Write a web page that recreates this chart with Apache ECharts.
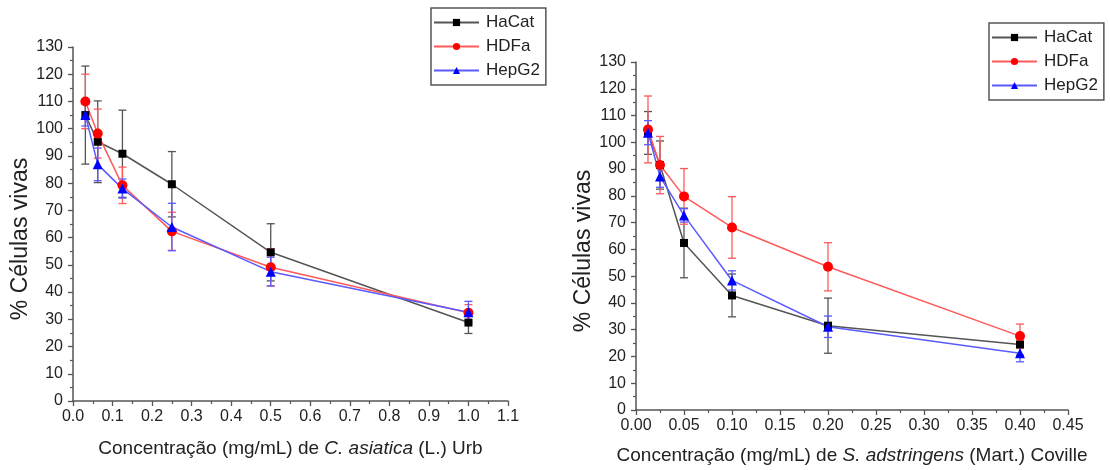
<!DOCTYPE html>
<html>
<head>
<meta charset="utf-8">
<script src="https://cdn.jsdelivr.net/npm/echarts@6/dist/echarts.min.js"></script>
<style>
  html, body { margin: 0; padding: 0; background: #fff; }
  #chart { width: 1110px; height: 470px; }
</style>
</head>
<body>
<div id="chart"></div>
<script>
// C. asiatica (painel esquerdo)
const concA = [0.03125, 0.0625, 0.125, 0.25, 0.5, 1.0];
const hacatA = [105, 95.2, 90.8, 79.6, 54.6, 28.8];
const hacatAErr = [18, 15, 16, 12, 10.5, 4];
const hdfaA = [110, 98.2, 79.2, 62.3, 49.1, 32.4];
const hdfaAErr = [10, 9, 6.7, 7, 6.8, 3];
const hepg2A = [105, 86.9, 78, 63.9, 47.5, 32.6];
const hepg2AErr = [4, 6, 3.5, 8.7, 5.3, 4];

// S. adstringens (painel direito)
const concB = [0.0125, 0.025, 0.05, 0.1, 0.2, 0.4];
const hacatB = [103.5, 91.5, 62.4, 42.8, 31.5, 24.5];
const hacatBErr = [8, 9, 13, 8, 10.3, 4];
const hdfaB = [104.8, 91.5, 79.8, 68.2, 53.5, 27.6];
const hdfaBErr = [12.5, 10.7, 10.4, 11.5, 9, 4.5];
const hepg2B = [103.6, 87.2, 72.7, 48.4, 31.1, 21.2];
const hepg2BErr = [4.5, 4, 2.5, 3.6, 4, 3.2];

const cellNames = ['HaCat', 'HDFa', 'HepG2'];
const markerColors = ['#000000', '#ff0000', '#0000ff'];
const lineColors = ['#555555', '#ff5a5a', '#5a5aff'];
const symbols = ['rect', 'circle', 'triangle'];
const symbolSizes = [8, 10, 10];

function pts(xs, ys) {
    return xs.map((x, i) => [x, ys[i]]);
}
function errPts(xs, ys, es) {
    return xs.map((x, i) => [x, ys[i], es[i]]);
}

// barra de erro com "chapeu" em cima e embaixo
function errorBar(color) {
    return function (params, api) {
        let x = api.value(0), y = api.value(1), e = api.value(2);
        let top = api.coord([x, y + e]);
        let bot = api.coord([x, y - e]);
        let w = 4;
        let st = { stroke: color, lineWidth: 1.3 };
        return {
            type: 'group',
            children: [
                { type: 'line', shape: { x1: top[0], y1: top[1], x2: bot[0], y2: bot[1] }, style: st },
                { type: 'line', shape: { x1: top[0] - w, y1: top[1], x2: top[0] + w, y2: top[1] }, style: st },
                { type: 'line', shape: { x1: bot[0] - w, y1: bot[1], x2: bot[0] + w, y2: bot[1] }, style: st }
            ]
        };
    };
}

const font = 'Liberation Sans, Arial, sans-serif';
const axisColor = '#555';

function xAxisOf(idx, max, interval, digits, nameRich, gap) {
    return {
        type: 'value', gridIndex: idx, min: 0, max: max, interval: interval,
        axisLine: { show: true, onZero: false, lineStyle: { color: axisColor, width: 1.5 } },
        axisTick: { show: true, length: 5, lineStyle: { color: axisColor, width: 1.3 } },
        minorTick: { show: true, splitNumber: 2, length: 3, lineStyle: { color: axisColor, width: 1.2 } },
        splitLine: { show: false },
        axisLabel: { color: '#222', fontSize: 16, fontFamily: font, margin: 8,
            formatter: v => v.toFixed(digits) },
        name: nameRich, nameLocation: 'middle', nameGap: gap,
        nameTextStyle: { color: '#222', fontSize: 19, fontFamily: font,
            rich: { i: { fontStyle: 'italic', fontSize: 19, fontFamily: font, color: '#222' } } }
    };
}
function yAxisOf(idx, gap) {
    return {
        type: 'value', gridIndex: idx, min: 0, max: 130, interval: 10,
        axisLine: { show: true, onZero: false, lineStyle: { color: axisColor, width: 1.5 } },
        axisTick: { show: true, length: 5, lineStyle: { color: axisColor, width: 1.3 } },
        minorTick: { show: true, splitNumber: 2, length: 3, lineStyle: { color: axisColor, width: 1.2 } },
        splitLine: { show: false },
        axisLabel: { color: '#222', fontSize: 16, fontFamily: font, margin: 10 },
        name: '% Células vivas', nameLocation: 'middle', nameGap: gap,
        nameTextStyle: { color: '#222', fontSize: 23, fontFamily: font, padding: [0, 30, 0, 0] }
    };
}

let series = [];
const panels = [
    { conc: concA, vals: [hacatA, hdfaA, hepg2A], errs: [hacatAErr, hdfaAErr, hepg2AErr] },
    { conc: concB, vals: [hacatB, hdfaB, hepg2B], errs: [hacatBErr, hdfaBErr, hepg2BErr] }
];
panels.forEach((p, g) => {
    for (let k = 0; k < 3; k++) {
        series.push({
            type: 'custom', xAxisIndex: g, yAxisIndex: g, z: 2,
            renderItem: errorBar(lineColors[k]),
            data: errPts(p.conc, p.vals[k], p.errs[k]),
            encode: { x: 0, y: 1 }, silent: true
        });
    }
    for (let k = 0; k < 3; k++) {
        series.push({
            type: 'line', name: cellNames[k], xAxisIndex: g, yAxisIndex: g, z: 3,
            data: pts(p.conc, p.vals[k]),
            symbol: symbols[k], symbolSize: symbolSizes[k],
            lineStyle: { color: lineColors[k], width: 1.5 },
            itemStyle: { color: markerColors[k] },
            animation: false
        });
    }
});

function legendAt(left, top) {
    return {
        data: cellNames, orient: 'vertical', left: left, top: top,
        itemWidth: 45, itemHeight: 9, itemGap: 7,
        padding: [6, 6, 6, 2],
        borderColor: '#555', borderWidth: 1.5,
        textStyle: { color: '#222', fontSize: 17, lineHeight: 17, fontFamily: font, padding: [0, 0, 0, 2] },
        selectedMode: false
    };
}

const chart = echarts.init(document.getElementById('chart'));
chart.setOption({
    backgroundColor: '#fff',
    animation: false,
    grid: [
        { left: 73, right: 602, top: 47, bottom: 69 },
        { left: 636, right: 42, top: 62, bottom: 60 }
    ],
    xAxis: [
        xAxisOf(0, 1.1, 0.1, 1, 'Concentração (mg/mL) de {i|C. asiatica} (L.) Urb', 38),
        xAxisOf(1, 0.45, 0.05, 2, 'Concentração (mg/mL) de {i|S. adstringens} (Mart.) Coville', 36)
    ],
    yAxis: [yAxisOf(0, 40), yAxisOf(1, 39)],
    legend: [legendAt(431, 8), legendAt(989, 23)],
    series: series
});
</script>
</body>
</html>
